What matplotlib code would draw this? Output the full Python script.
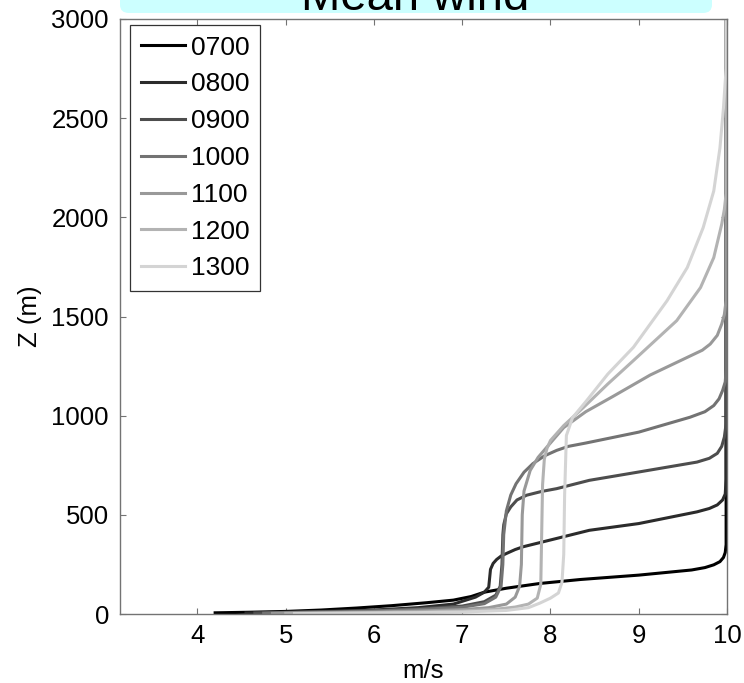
import numpy as np
import matplotlib
matplotlib.use('Agg')
import matplotlib.pyplot as plt
from matplotlib.patches import FancyBboxPatch

plt.rcParams['font.family'] = ['Liberation Sans', 'DejaVu Sans']
plt.rcParams['font.size'] = 18.5

#%% data (wind speed m/s, height m)
times = ['0700', '0800', '0900', '1000', '1100', '1200', '1300']

speed_0700 = [4.2, 4.6, 5.0, 5.4, 5.8, 6.2, 6.6, 6.9, 7.1, 7.25, 7.5, 7.88, 8.34, 9.0, 9.6, 9.75, 9.85, 9.92, 9.96, 9.98, 9.99, 9.99]
height_0700 = [6, 9, 13, 20, 30, 42, 57, 70, 88, 110, 130, 154, 174, 196, 222, 234, 248, 264, 285, 310, 350, 3000]

speed_0800 = [4.55, 5.0, 5.5, 6.0, 6.5, 6.9, 7.15, 7.25, 7.3, 7.31, 7.32, 7.35, 7.39, 7.44, 7.5, 7.6, 7.69, 8.07, 8.44, 9.0, 9.66, 9.8, 9.89, 9.95, 9.98, 9.99, 9.99]
height_0800 = [5, 9, 14, 20, 32, 50, 85, 110, 135, 180, 225, 255, 275, 292, 305, 325, 339, 381, 422, 456, 515, 532, 550, 575, 605, 680, 3000]

speed_0900 = [4.65, 5.0, 5.5, 6.0, 6.5, 7.0, 7.25, 7.38, 7.43, 7.45, 7.46, 7.47, 7.5, 7.55, 7.62, 7.73, 7.9, 8.07, 8.44, 9.0, 9.66, 9.8, 9.89, 9.94, 9.97, 9.99, 9.99]
height_0900 = [5, 8, 12, 17, 26, 40, 62, 95, 140, 250, 400, 450, 505, 540, 575, 599, 618, 632, 674, 716, 766, 785, 810, 845, 892, 960, 3000]

speed_1000 = [4.75, 5.0, 5.5, 6.0, 6.5, 7.0, 7.25, 7.38, 7.44, 7.46, 7.47, 7.5, 7.55, 7.61, 7.7, 7.8, 7.93, 8.07, 8.2, 8.4, 9.0, 9.58, 9.75, 9.85, 9.91, 9.95, 9.98, 9.99, 9.99]
height_1000 = [4, 7, 10, 15, 22, 34, 52, 85, 140, 250, 400, 520, 600, 657, 715, 758, 797, 825, 845, 862, 917, 992, 1020, 1051, 1085, 1127, 1170, 1230, 3000]

speed_1100 = [4.85, 5.5, 6.0, 6.5, 7.0, 7.3, 7.5, 7.6, 7.65, 7.67, 7.68, 7.7, 7.77, 7.86, 7.96, 8.15, 8.4, 8.7, 9.13, 9.55, 9.72, 9.81, 9.89, 9.94, 9.97, 9.99, 9.99]
height_1100 = [3, 7, 10, 15, 22, 32, 50, 85, 140, 250, 500, 620, 724, 790, 842, 940, 1020, 1095, 1205, 1294, 1330, 1361, 1405, 1462, 1510, 1580, 3000]

speed_1200 = [5.0, 5.5, 6.0, 6.5, 7.0, 7.4, 7.6, 7.75, 7.85, 7.89, 7.9, 7.91, 7.93, 7.96, 8.0, 8.15, 8.37, 8.65, 8.94, 9.43, 9.7, 9.85, 9.94, 9.97, 9.99, 9.99]
height_1200 = [3, 5, 7, 10, 15, 25, 35, 50, 80, 150, 400, 650, 780, 835, 875, 950, 1040, 1160, 1278, 1479, 1646, 1797, 1965, 2040, 2120, 3000]

speed_1300 = [5.1, 5.5, 6.0, 6.5, 7.0, 7.5, 7.75, 7.88, 8.0, 8.09, 8.13, 8.15, 8.16, 8.18, 8.25, 8.41, 8.65, 8.94, 9.32, 9.55, 9.73, 9.85, 9.92, 9.96, 9.99, 9.99]
height_1300 = [2, 3, 5, 7, 10, 18, 32, 55, 80, 106, 160, 300, 600, 900, 990, 1076, 1210, 1345, 1579, 1747, 1948, 2133, 2350, 2552, 2750, 3000]

speeds = [speed_0700, speed_0800, speed_0900, speed_1000, speed_1100, speed_1200, speed_1300]
heights = [height_0700, height_0800, height_0900, height_1000, height_1100, height_1200, height_1300]

grays = ['0.0', '0.17', '0.3', '0.45', '0.6', '0.7', '0.83']

#%% figure
fig = plt.figure(figsize=(7.44, 6.83), dpi=100)
ax = fig.add_axes([120/744, 1 - 614/683, (727 - 120)/744, (614 - 19)/683])

for t, u, z, c in zip(times, speeds, heights, grays):
    ax.plot(u, z, color=c, linewidth=2.2, label=t, solid_joinstyle='round')

ax.set_xlim(3.122, 10)
ax.set_ylim(0, 3000)
ax.set_xticks(np.arange(4, 11, 1))
ax.set_yticks(np.arange(0, 3001, 500))
ax.tick_params(direction='in', length=4, width=0.8, color='0.45',
               top=True, right=True, labelsize=18.5)
ax.tick_params(axis='x', pad=7)
ax.tick_params(axis='y', pad=8)
for s in ax.spines.values():
    s.set_color('0.45')
    s.set_linewidth(1.0)

ax.set_xlabel('m/s', fontsize=18.5, labelpad=8)
ax.set_ylabel('Z (m)', fontsize=18.5, labelpad=7)

leg = ax.legend(loc='upper left', bbox_to_anchor=(130/744, 1 - 25/683),
                bbox_transform=fig.transFigure, borderaxespad=0,
                fancybox=False, framealpha=1, edgecolor='0.2',
                handlelength=1.7, handletextpad=0.22, labelspacing=0.485,
                borderpad=0.4, fontsize=19)
leg.get_frame().set_linewidth(0.9)

# cyan title box, cut off by the top of the figure
box = FancyBboxPatch((120/744, 1 - 13/683), (712 - 120)/744, 60/683,
                     boxstyle='round,pad=0,rounding_size=0.012',
                     transform=fig.transFigure, facecolor='#ccffff',
                     edgecolor='none', clip_on=False)
fig.patches.append(box)
fig.text(415/744, 1 - 10/683, 'Mean wind', ha='center', va='baseline',
         fontsize=34)

fig.savefig('out.png', dpi=100)
